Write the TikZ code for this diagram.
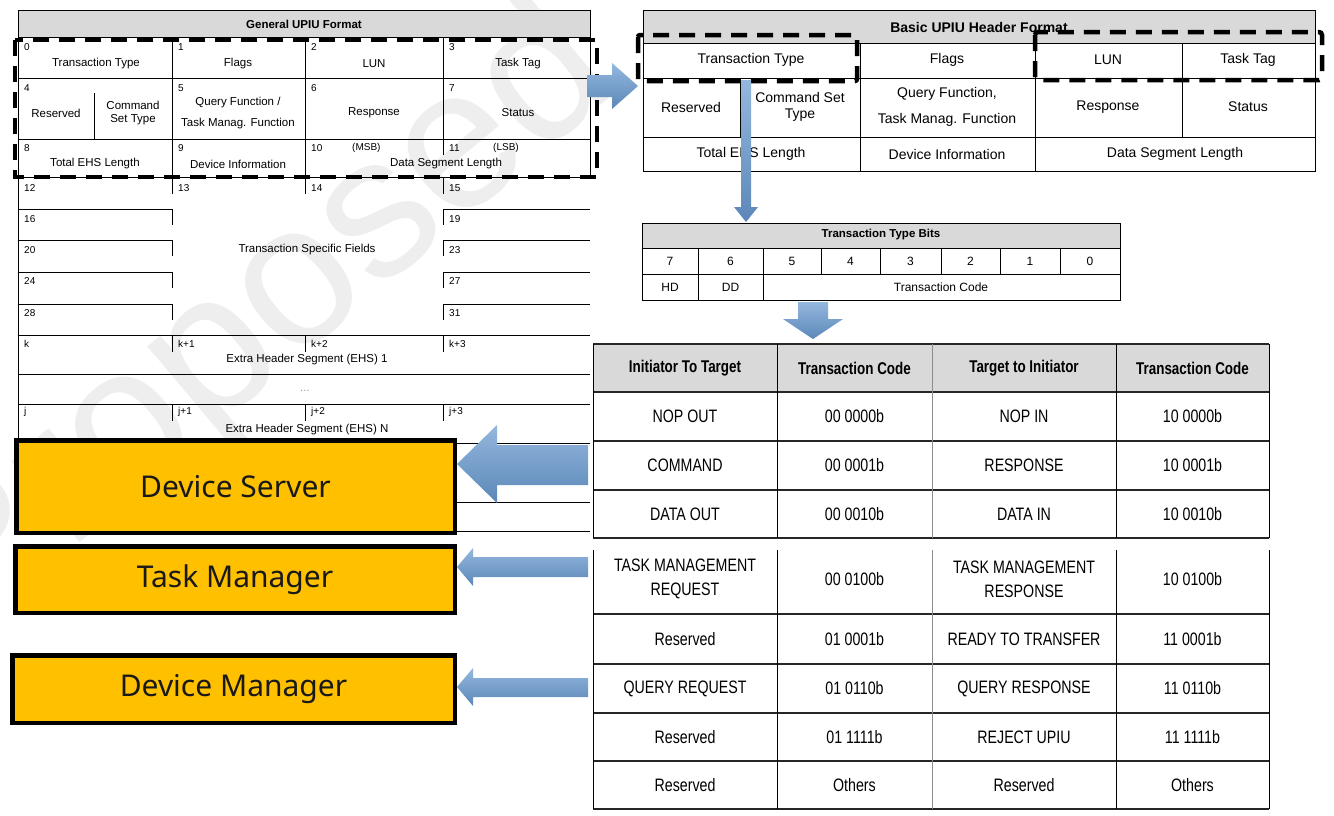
\documentclass[tikz,border=0pt]{standalone}
\usepackage{fontspec}
\setmainfont{Liberation Sans}
\newfontfamily\narrowfont[FakeStretch=0.79]{Liberation Sans}
\newfontfamily\boxfont{Noto Sans}
\usetikzlibrary{shadows}
\definecolor{hdrgray}{HTML}{D9D9D9}
\definecolor{boxorange}{HTML}{FFC000}
\definecolor{arrtop}{HTML}{94B8DE}
\definecolor{arrbot}{HTML}{5B87B8}
\definecolor{wmark}{HTML}{EEEEEE}
\tikzset{
  tline/.style={line width=0.8pt, draw=black},
  gline/.style={line width=0.8pt, draw=black!45},
  bline/.style={line width=1.3pt, draw=black!85},
  num/.style={anchor=west, inner sep=0pt, font=\fontsize{10}{12}\selectfont},
  cell/.style={inner sep=0pt, align=center, font=\fontsize{11.5}{13}\selectfont},
  hdr/.style={inner sep=0pt, align=center, font=\bfseries\fontsize{11.5}{13}\selectfont},
  rcell/.style={inner sep=0pt, align=center, font=\fontsize{14}{16}\selectfont},
  rhdr/.style={inner sep=0pt, align=center, font=\bfseries\fontsize{14}{16}\selectfont},
  bcell/.style={inner sep=0pt, align=center, font=\fontsize{12}{14}\selectfont},
  tcell/.style={inner sep=0pt, align=center, font=\narrowfont\fontsize{18}{24}\selectfont},
  thdr/.style={inner sep=0pt, align=center, font=\narrowfont\bfseries\fontsize{17}{20}\selectfont},
  dashbox/.style={line width=4.5pt, draw=black, dash pattern=on 16pt off 10pt},
  rolebox/.style={draw=black, line width=4.5pt, fill=boxorange, text=black!90,
    font=\boxfont\fontsize{30}{36}\selectfont, inner sep=0pt,
    drop shadow={opacity=0.3, shadow xshift=2pt, shadow yshift=-2pt}},
  barrow/.style={top color=arrtop, bottom color=arrbot, draw=none},
}
\begin{document}
\begin{tikzpicture}[x=1pt,y=-1pt]
\useasboundingbox (0,0) rectangle (1334,815);
\fill[white] (0,0) rectangle (1334,815);

% watermark
\node[rotate=40, text=wmark, inner sep=0pt, font=\fontsize{200}{200}\selectfont] (wm) at (262,322) {Proposed};

% ===== General UPIU Format (left table) =====
\draw[tline, fill=hdrgray] (18,10) rectangle (590,37);
\node[hdr] (gtitle) at (304,24) {General UPIU Format};
\foreach \yy in {37,78,139,177,335,374,404,443,502,531} \draw[tline] (18,\yy) -- (590,\yy);
\foreach \yy in {209,240,272,304} {\draw[tline] (18,\yy) -- (172,\yy); \draw[tline] (443,\yy) -- (590,\yy);}
\draw[tline] (18,10) -- (18,531);
\draw[tline] (590,10) -- (590,177);
\foreach \xx in {172,305,443} \draw[tline] (\xx,37) -- (\xx,139);
\draw[tline] (172,139) -- (172,177);
\draw[tline] (305,139) -- (305,177);
\draw[tline] (443,139) -- (443,155);
\draw[tline] (94,93) -- (94,139);
\foreach \yy in {177,335,404} \foreach \xx in {172,305,443} \draw[tline] (\xx,\yy) -- (\xx,\yy+17);
\foreach \yy in {209,240,272,304} \foreach \xx in {172,443} \draw[tline] (\xx,\yy) -- (\xx,\yy+16);

\foreach \t/\xx/\yy [count=\i] in {0/24/47, 1/178/47, 2/311/47, 3/449/47,
  4/24/88, 5/178/88, 6/311/88, 7/449/88, 8/24/148, 9/178/148, 10/311/148, 11/449/148,
  12/24/188, 13/178/188, 14/311/188, 15/449/188, 16/24/219, 19/449/219, 20/24/250, 23/449/250,
  24/24/281, 27/449/281, 28/24/313, 31/449/313, k/24/344, k+1/178/344, k+2/311/344, k+3/449/344,
  j/24/412, j+1/178/412, j+2/311/412, j+3/449/412}
  \node[num] (gn\i) at (\xx,\yy) {\t};

\node[cell] (gTT) at (96,64) {Transaction Type};
\node[cell] (gFl) at (238,64) {Flags};
\node[cell] (gLUN) at (374,64) {LUN};
\node[cell] (gTag) at (518,64) {Task Tag};
\node[cell] (gRes) at (56,113) {Reserved};
\node[cell, font=\fontsize{11.5}{13}\selectfont] (gCST) at (133,113) {Command\\Set Type};
\node[cell, font=\fontsize{11.5}{21}\selectfont] (gQF) at (238,113) {Query Function /\\Task Manag. Function};
\node[cell] (gResp) at (374,113) {Response};
\node[cell] (gStat) at (518,113) {Status};
\node[num] (gMSB) at (352,148) {(MSB)};
\node[num] (gLSB) at (493,148) {(LSB)};
\node[cell] (gEHS) at (95,164) {Total EHS Length};
\node[cell] (gDI) at (238,164) {Device Information};
\node[cell] (gDSL) at (446,164) {Data Segment Length};
\node[cell] (gTSF) at (307,250) {Transaction Specific Fields};
\node[cell] (gE1) at (307,360) {Extra Header Segment (EHS) 1};
\node[cell, text=black!40] (gDots) at (305,391) {...};
\node[cell] (gEN) at (307,430) {Extra Header Segment (EHS) N};

\draw[dashbox] (15,40) rectangle (597,177);

% ===== Basic UPIU Header Format =====
\draw[tline, fill=hdrgray] (643,10) rectangle (1315,43);
\draw[tline] (643,43) rectangle (1315,171);
\foreach \yy in {78,137} \draw[tline] (643,\yy) -- (1315,\yy);
\draw[tline] (860,43) -- (860,171);
\draw[tline] (1035,43) -- (1035,171);
\draw[tline] (1182,43) -- (1182,137);
\draw[tline] (740,78) -- (740,137);
\node[rhdr] (btitle) at (979,27) {Basic UPIU Header Format};
\node[rcell] (bTT) at (751,60) {Transaction Type};
\node[rcell] (bFl) at (947,60) {Flags};
\node[rcell] (bLUN) at (1108,60) {LUN};
\node[rcell] (bTag) at (1248,60) {Task Tag};
\node[rcell] (bRes) at (691,107) {Reserved};
\node[rcell, font=\fontsize{14}{16}\selectfont] (bCST) at (800,107) {Command Set\\Type};
\node[rcell, font=\fontsize{14}{26}\selectfont] (bQF) at (947,107) {Query Function,\\Task Manag. Function};
\node[rcell] (bResp) at (1108,107) {Response};
\node[rcell] (bStat) at (1248,107) {Status};
\node[rcell] (bEHS) at (751,154) {Total EHS Length};
\node[rcell] (bDI) at (947,154) {Device Information};
\node[rcell] (bDSL) at (1175,154) {Data Segment Length};

\draw[dashbox, rounded corners=2pt] (638,35) rectangle (857,81);
\draw[dashbox, rounded corners=3pt] (1035,32) rectangle (1322,80);

% ===== Transaction Type Bits =====
\draw[tline, fill=hdrgray] (642,223) rectangle (1120,248);
\draw[tline] (642,248) rectangle (1120,300);
\draw[tline] (642,274) -- (1120,274);
\foreach \xx in {698,763} \draw[tline] (\xx,248) -- (\xx,300);
\foreach \xx in {821,880,941,1000,1060} \draw[tline] (\xx,248) -- (\xx,274);
\node[hdr] (ttitle) at (881,235) {Transaction Type Bits};
\foreach \t/\xx [count=\i] in {7/670,6/730.5,5/792,4/850.5,3/910.5,2/970.5,1/1030,0/1090}
  \node[bcell] (bit\i) at (\xx,261) {\t};
\node[bcell] (tHD) at (670,287) {HD};
\node[bcell] (tDD) at (730.5,287) {DD};
\node[bcell] (tTC) at (941,287) {Transaction Code};

% ===== Transaction code table =====
\fill[hdrgray] (593,344) rectangle (1269,392);
\draw[bline] (593,344) -- (1269,344);
\foreach \yy in {392,441,490,538} \draw[bline] (593,\yy) -- (1269,\yy);
\foreach \yy in {614,664,713,761,809} \draw[bline] (593,\yy) -- (1269,\yy);
\foreach \xx in {593,777,1116,1269} {\draw[tline] (\xx,344) -- (\xx,538); \draw[tline] (\xx,550) -- (\xx,809);}
\draw[gline] (932,344) -- (932,538);
\draw[gline] (932,550) -- (932,809);

\node[thdr] (h1) at (685,368) {Initiator To Target};
\node[thdr] (h2) at (854.5,368) {Transaction Code};
\node[thdr] (h3) at (1024,368) {Target to Initiator};
\node[thdr] (h4) at (1192.5,368) {Transaction Code};
\foreach \a/\b/\c/\d/\yy [count=\i] in {
  NOP OUT/00 0000b/NOP IN/10 0000b/416.5,
  COMMAND/00 0001b/RESPONSE/10 0001b/465.5,
  DATA OUT/00 0010b/DATA IN/10 0010b/514,
  TASK MANAGEMENT\\REQUEST/00 0100b/TASK MANAGEMENT\\RESPONSE/10 0100b/579,
  Reserved/01 0001b/READY TO TRANSFER/11 0001b/639,
  QUERY REQUEST/01 0110b/QUERY RESPONSE/11 0110b/688.5,
  Reserved/01 1111b/REJECT UPIU/11 1111b/737,
  Reserved/Others/Reserved/Others/785}
{
  \node[tcell] (ca\i) at (685,\yy) {\a};
  \node[tcell] (cb\i) at (854.5,\yy) {\b};
  \node[tcell] (cc\i) at (1024,\yy) {\c};
  \node[tcell] (cd\i) at (1192.5,\yy) {\d};
}

% ===== Role boxes =====
\node[rolebox, minimum width=438.5pt, minimum height=92.5pt] (ds) at (235.5,486.5) {Device Server};
\node[rolebox, minimum width=439.5pt, minimum height=66.5pt] (tm) at (235,579.5) {Task Manager};
\node[rolebox, minimum width=442.5pt, minimum height=67.5pt] (dm) at (233.5,689) {Device Manager};

% ===== Block arrows =====
\shade[barrow] (587,75) -- (612,75) -- (612,63) -- (638,86) -- (612,109) -- (612,97) -- (587,97) -- cycle;
\shade[barrow] (741,80) -- (751,80) -- (751,207) -- (758,207) -- (746,222) -- (734,207) -- (741,207) -- cycle;
\shade[barrow] (798,302) -- (828,302) -- (828,319) -- (843,319) -- (813,339) -- (783,319) -- (798,319) -- cycle;
\shade[barrow] (588,445) -- (497,445) -- (497,425) -- (457,464) -- (497,503) -- (497,485) -- (588,485) -- cycle;
\shade[barrow] (588,557) -- (473,557) -- (473,548) -- (457,567) -- (473,586) -- (473,577) -- (588,577) -- cycle;
\shade[barrow] (588,678) -- (473,678) -- (473,668) -- (457,687) -- (473,706) -- (473,697) -- (588,697) -- cycle;
\end{tikzpicture}
\end{document}
